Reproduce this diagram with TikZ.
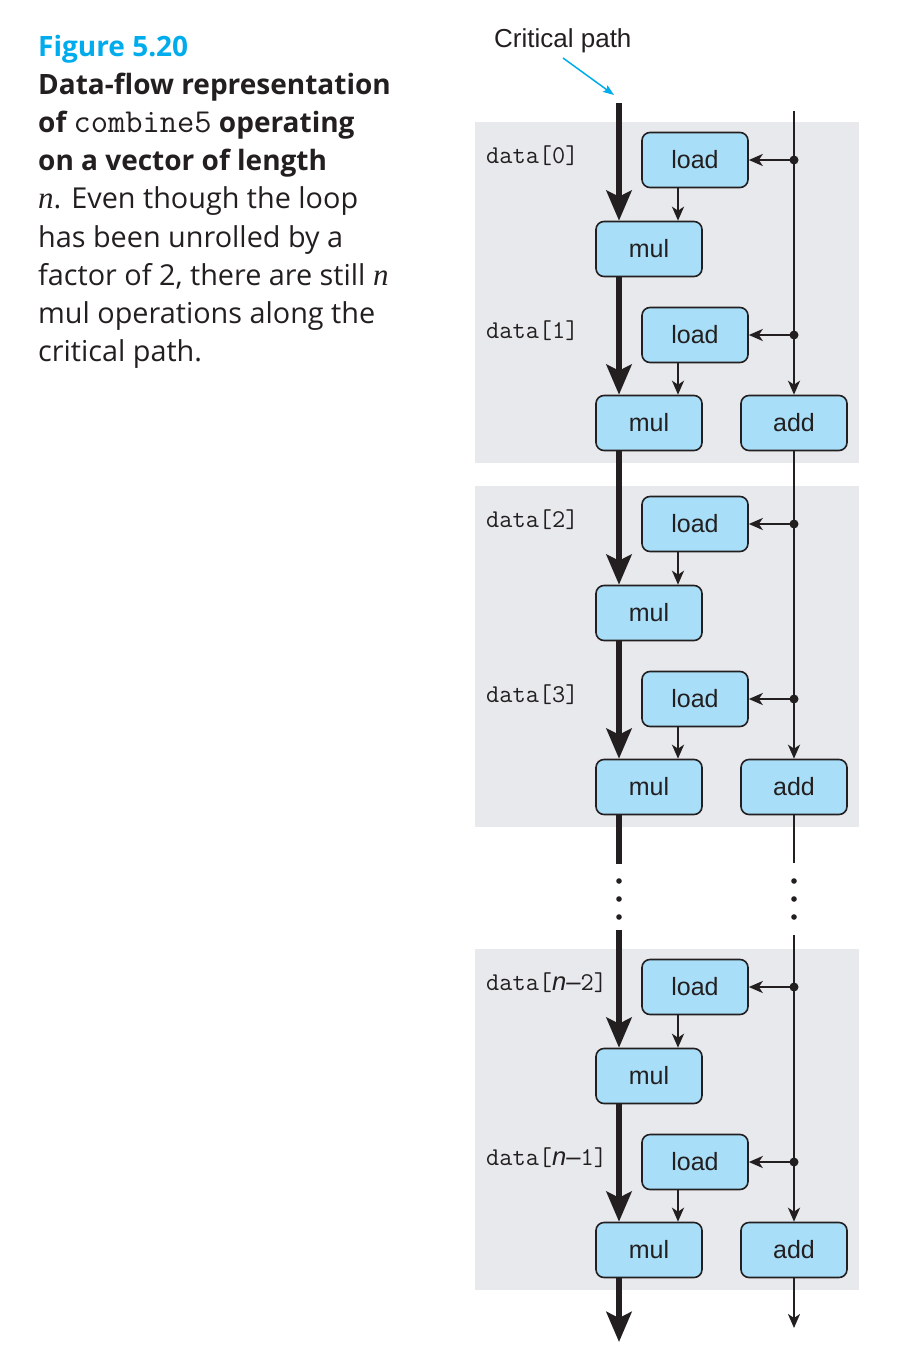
\documentclass[tikz,border=0pt]{standalone}
\usepackage{fontspec}
\setmainfont{Open Sans}
\newfontfamily\hel{Liberation Sans}
\newfontfamily\timesf{Liberation Serif}
\usetikzlibrary{arrows.meta}
\definecolor{boxblue}{RGB}{168,222,248}
\definecolor{panelgray}{RGB}{232,233,236}
\definecolor{figcyan}{RGB}{0,172,236}
\definecolor{ink}{RGB}{35,31,32}
\newcommand{\nvar}{{\hel\itshape n}}
\newcommand{\myndash}{{\hel –}}
\newcommand{\capn}{{\timesf\itshape\fontsize{31}{38}\selectfont n}}
\begin{document}
\begin{tikzpicture}[x=1pt,y=-1pt,
  op/.style={draw=ink, line width=1.6pt, fill=boxblue, rounded corners=8pt,
    minimum width=106pt, minimum height=55pt, inner sep=0pt,
    font=\hel\fontsize{25}{30}\selectfont, text=ink},
  lab/.style={anchor=base west, inner sep=0pt, text=ink,
    font=\ttfamily\fontsize{25.6}{30}\selectfont},
  captxt/.style={anchor=base west, inner sep=0pt, text=ink,
    font=\fontsize{28.8}{38}\selectfont},
  captxtb/.style={captxt, font=\bfseries\fontsize{28}{38}\selectfont},
  crit/.style={line width=6pt, draw=ink},
  critarrow/.style={crit, -{Stealth[length=30pt, width=25pt, inset=6pt]}},
  thinline/.style={line width=2.3pt, draw=ink},
  thinarrow/.style={thinline, -{Stealth[length=14pt, width=12pt, inset=4pt]}},
  cyanarrow/.style={line width=1.5pt, draw=figcyan, -{Stealth[length=11pt, width=8pt, inset=2pt]}}
]
\useasboundingbox (0,0) rectangle (900,1352);

% caption
\node[captxt, text=figcyan, font=\bfseries\fontsize{28}{38}\selectfont] (c1) at (38,56) {Figure 5.20};
\node[captxtb] (c2) at (38,94) {Data-flow representation};
\node[captxtb] (c3) at (38,132) {of {\mdseries\ttfamily\fontsize{33.5}{38}\selectfont combine5} operating};
\node[captxtb] (c4) at (38,170) {on a vector of length};
\node[captxt] (c5) at (38,208) {\capn. Even though the loop};
\node[captxt] (c6) at (38,247) {has been unrolled by a};
\node[captxt] (c7) at (38,285) {factor of 2, there are still \capn};
\node[captxt] (c8) at (38,323) {mul operations along the};
\node[captxt] (c9) at (38,361) {critical path.};

% panels
\foreach \d in {0,364,827}
  \fill[panelgray] (475,122+\d) rectangle (859,463+\d);

% helper coordinates
\coordinate (cx) at (619,0);
\coordinate (lx) at (678,0);
\coordinate (ctop) at (619,103);
\coordinate (cg1) at (619,864);
\coordinate (cg2) at (619,930);
\coordinate (cend) at (619,1342);
\coordinate (rtop) at (794,111);
\coordinate (rg1) at (794,863);
\coordinate (rg2) at (794,935);
\coordinate (rend) at (794,1328);

% nodes
\foreach \d/\k/\la/\lb in {0/0/0/1, 364/1/2/3, 827/2/{\nvar\myndash2}/{\nvar\myndash1}}{
  \node[op] (la\k) at (695,160+\d) {load};
  \node[op] (ma\k) at (649,249+\d) {mul};
  \node[op] (lb\k) at (695,335+\d) {load};
  \node[op] (mb\k) at (649,423+\d) {mul};
  \node[op] (ad\k) at (794,423+\d) {add};
  \coordinate (ja\k) at (794,160+\d);
  \coordinate (jb\k) at (794,335+\d);
  \node[lab] (da\k) at (486,163+\d) {data[\la]};
  \node[lab] (db\k) at (486,338+\d) {data[\lb]};
  \draw[thinarrow] (ja\k) -- (la\k.east);
  \draw[thinarrow] (jb\k) -- (lb\k.east);
  \draw[thinarrow] (la\k.south -| lx) -- (ma\k.north -| lx);
  \draw[thinarrow] (lb\k.south -| lx) -- (mb\k.north -| lx);
  \draw[critarrow] (ma\k.south -| cx) -- (mb\k.north -| cx);
}

% critical path
\draw[critarrow] (ctop) -- (ma0.north -| cx);
\draw[critarrow] (mb0.south -| cx) -- (ma1.north -| cx);
\draw[crit] (mb1.south -| cx) -- (cg1);
\draw[critarrow] (cg2) -- (ma2.north -| cx);
\draw[critarrow] (mb2.south -| cx) -- (cend);

% add chain
\draw[thinarrow] (rtop) -- (ad0.north);
\draw[thinarrow] (ad0.south) -- (ad1.north);
\draw[thinline] (ad1.south) -- (rg1);
\draw[thinarrow] (rg2) -- (ad2.north);
\draw[thinarrow] (ad2.south) -- (rend);

% junction dots
\foreach \k in {0,1,2}{
  \fill[ink] (ja\k) circle (4.5pt);
  \fill[ink] (jb\k) circle (4.5pt);
}
% ellipsis dots
\foreach \y in {881,899,917}{
  \fill[ink] (619,\y) circle (2.8pt);
  \fill[ink] (794,\y) circle (2.8pt);
}

% critical path label
\node[anchor=base west, inner sep=0pt, text=ink, font=\hel\fontsize{26}{30}\selectfont] (cp) at (494,47) {Critical path};
\coordinate (cpa) at (563,58);
\coordinate (cpb) at (614,95);
\draw[cyanarrow] (cpa) -- (cpb);
\end{tikzpicture}
\end{document}
